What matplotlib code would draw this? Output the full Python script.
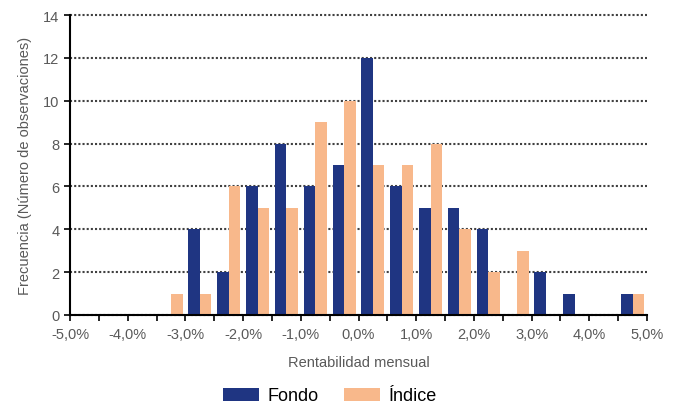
import numpy as np
import matplotlib
matplotlib.use("Agg")
import matplotlib.pyplot as plt
from matplotlib.ticker import MultipleLocator, FuncFormatter

plt.rcParams["font.family"] = ["Liberation Sans", "DejaVu Sans"]

# bins of 0.5% from -5% to 5% (left edges)
bin_edges = np.arange(-5.0, 5.01, 0.5)
fondo  = [0, 0, 0, 0, 4, 2, 6, 8, 6, 7, 12, 6, 5, 5, 4, 0, 2, 1, 0, 1]
indice = [0, 0, 0, 1, 1, 6, 5, 5, 9, 10, 7, 7, 8, 4, 2, 3, 0, 0, 0, 1]

FONDO_COLOR  = "#1F3582"
INDICE_COLOR = "#F8B88B"
GRAY = "#595959"

centers = (bin_edges[:-1] + bin_edges[1:]) / 2
w = 0.2

fig = plt.figure(figsize=(6.83, 4.10), dpi=100)
ax = fig.add_axes([70 / 683, 1 - 316 / 410, 577 / 683, 300 / 410])

ax.bar(centers - w / 2, fondo, width=w, color=FONDO_COLOR, label="Fondo", zorder=3)
ax.bar(centers + w / 2, indice, width=w, color=INDICE_COLOR, label="Índice", zorder=3)

ax.set_xlim(-5, 5)
ax.set_ylim(0, 14)
ax.yaxis.set_major_locator(MultipleLocator(2))
ax.xaxis.set_major_locator(MultipleLocator(1))
ax.xaxis.set_minor_locator(MultipleLocator(0.5))
ax.xaxis.set_major_formatter(FuncFormatter(lambda v, p: f"{v:.1f}%".replace(".", ",")))

ax.grid(True, axis="y", linestyle=(0, (1, 1)), color="#404040", linewidth=1.5,
        dash_capstyle="butt", zorder=1)
for gl in ax.get_ygridlines():
    gl.set_clip_on(False)
for s in ["top", "right"]:
    ax.spines[s].set_visible(False)
for s in ["left", "bottom"]:
    ax.spines[s].set_color("black")
    ax.spines[s].set_linewidth(1.5)
    ax.spines[s].set_zorder(4)

ax.tick_params(axis="both", which="both", colors="black", labelcolor=GRAY,
               labelsize=10.5, length=4, width=1.2)
ax.tick_params(axis="x", pad=5)

ax.set_xlabel("Rentabilidad mensual", fontsize=10.5, color=GRAY, labelpad=10)
ax.set_ylabel("Frecuencia (Número de observaciones)", fontsize=10.5, color=GRAY, labelpad=8)

fig.legend(loc="center", bbox_to_anchor=(330 / 683, 1 - 397 / 410), ncol=2,
           frameon=False, fontsize=13, handlelength=2.0, handleheight=0.75,
           handletextpad=0.5, columnspacing=1.4)

fig.savefig("out.png", dpi=100, facecolor="white")
